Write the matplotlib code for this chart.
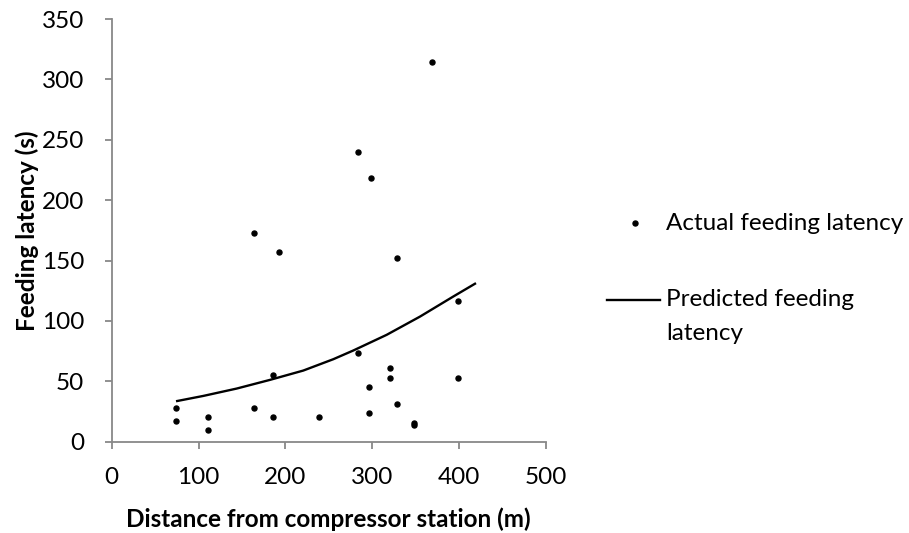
import matplotlib
matplotlib.use('Agg')
import matplotlib.pyplot as plt
from matplotlib.lines import Line2D

plt.rcParams['font.family'] = ['Lato', 'DejaVu Sans']

# observed feeding latency vs distance
distance = [368.7, 283.4, 298.7, 163.6, 192.7, 328.3, 399.0, 283.4, 320.6, 320.6,
            185.5, 296.8, 399.0, 73.7, 73.7, 111.3, 111.3, 163.6, 185.5, 238.5,
            296.8, 328.3, 348.6, 348.6]
latency = [314.6, 240.2, 218.4, 173.0, 157.3, 152.3, 116.1, 73.5, 61.1, 53.1,
           55.0, 45.1, 53.1, 27.9, 16.9, 20.2, 10.0, 27.9, 20.2, 20.2,
           24.0, 31.0, 15.8, 14.1]

# predicted curve
pred_distance = [74.1, 105.5, 144.0, 182.4, 220.7, 255.3, 278.3, 316.8, 355.2, 393.5, 419.7]
pred_latency = [33.5, 37.9, 44.0, 51.2, 58.9, 68.3, 75.5, 88.5, 103.6, 120.2, 131.3]

x_ticks = [0, 100, 200, 300, 400, 500]
y_ticks = [0, 50, 100, 150, 200, 250, 300, 350]

W, H = 909, 533
FS = 17.5
fig = plt.figure(figsize=(W / 100, H / 100), dpi=100)
ax = fig.add_axes([111.7 / W, 1 - 441.7 / H, 434 / W, 422.7 / H])

ax.plot(distance, latency, 'o', color='black', markersize=3.6, linestyle='none')
ax.plot(pred_distance, pred_latency, '-', color='black', linewidth=1.7,
        solid_capstyle='butt', solid_joinstyle='round')

ax.set_xlim(0, 500)
ax.set_ylim(0, 350)
ax.set_xticks(x_ticks)
ax.set_yticks(y_ticks)
for s in ['top', 'right']:
    ax.spines[s].set_visible(False)
for s in ['left', 'bottom']:
    ax.spines[s].set_color('#888888')
    ax.spines[s].set_linewidth(1.3)
ax.tick_params(colors='#888888', labelcolor='black', length=5, width=1.3, labelsize=FS)
ax.tick_params(axis='x', pad=13)
ax.tick_params(axis='y', pad=15)
ax.set_xlabel('Distance from compressor station (m)', fontsize=FS, fontweight='bold', labelpad=14)
ax.set_ylabel('Feeding latency (s)', fontsize=FS, fontweight='bold', labelpad=2)

# legend drawn by hand to place it like the original
fig.add_artist(Line2D([635 / W], [1 - 223 / H], marker='o', color='black', markersize=3.6))
fig.add_artist(Line2D([607 / W, 660 / W], [1 - 300 / H] * 2, color='black', linewidth=1.7))
fig.text(666 / W, 1 - 223 / H, 'Actual feeding latency', fontsize=FS, va='center')
fig.text(666 / W, 1 - 300 / H, 'Predicted feeding', fontsize=FS, va='center')
fig.text(666 / W, 1 - 333 / H, 'latency', fontsize=FS, va='center')

fig.savefig('out.png', dpi=100)
plt.close(fig)
